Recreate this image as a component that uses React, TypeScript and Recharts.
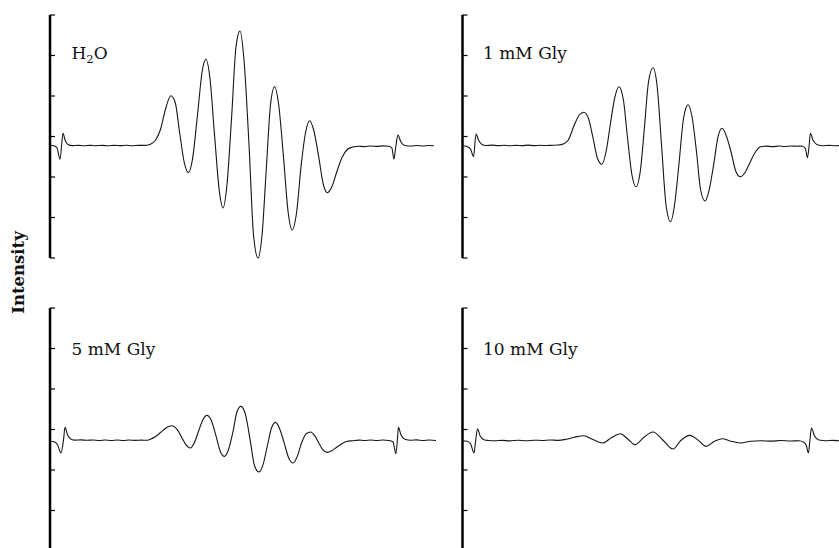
import React from 'react';
import { LineChart, Line, XAxis, YAxis } from 'recharts';

// Magnetic field (G) vs. EPR intensity (a.u.)
const spectrumH2O: [number, number][] = [
  [3440.0, -0.217], [3440.8, -0.23], [3441.4, -0.284], [3442.0, -0.563], [3442.6, 0.079],
  [3443.0, -0.086], [3443.6, -0.198], [3444.4, -0.226], [3445.6, -0.218], [3446.8, -0.229],
  [3448.0, -0.219], [3449.2, -0.228], [3450.4, -0.22], [3451.6, -0.23], [3452.8, -0.218],
  [3454.0, -0.226], [3455.2, -0.217], [3456.4, -0.228], [3457.6, -0.219], [3458.8, -0.22],
  [3460.0, -0.19], [3461.0, -0.099], [3462.0, 0.16], [3463.0, 0.654], [3464.1, 1.007],
  [3465.0, 0.827], [3465.9, 0.062], [3466.8, -0.654], [3467.6, -0.894], [3468.4, -0.58],
  [3469.4, 0.506], [3470.4, 1.642], [3471.1, 1.906], [3471.9, 1.444], [3472.8, 0.072],
  [3473.8, -1.37], [3474.5, -1.765], [3475.3, -1.198], [3476.2, 0.42], [3477.1, 2.21],
  [3477.9, 2.605], [3478.7, 1.889], [3479.7, -0.21], [3480.6, -2.432], [3481.5, -3.0],
  [3482.3, -2.432], [3483.1, -0.901], [3484.0, 0.802], [3484.8, 1.23], [3485.6, 0.802],
  [3486.6, -0.541], [3487.5, -1.864], [3488.3, -2.309], [3489.2, -1.864], [3490.1, -0.714],
  [3491.0, 0.111], [3491.8, 0.39], [3492.6, 0.16], [3493.6, -0.499], [3494.5, -1.173],
  [3495.3, -1.388], [3496.2, -1.247], [3497.2, -0.877], [3498.2, -0.531], [3499.3, -0.321],
  [3500.4, -0.259], [3501.6, -0.24], [3502.8, -0.249], [3504.0, -0.235], [3505.2, -0.244],
  [3506.4, -0.232], [3507.6, -0.24], [3508.2, -0.284], [3508.6, -0.556], [3509.0, -0.235],
  [3509.4, 0.037], [3510.0, -0.136], [3510.8, -0.222], [3512.0, -0.236], [3513.2, -0.224],
  [3514.4, -0.233], [3515.6, -0.224], [3516.6, -0.23],
];

const spectrumGly1: [number, number][] = [
  [3440.0, -0.222], [3440.9, -0.247], [3441.6, -0.309], [3442.2, -0.499], [3442.7, 0.062],
  [3443.2, -0.086], [3443.9, -0.198], [3444.7, -0.222], [3445.9, -0.214], [3447.1, -0.226],
  [3448.3, -0.216], [3449.5, -0.227], [3450.7, -0.218], [3451.9, -0.225], [3453.1, -0.214],
  [3454.3, -0.226], [3455.5, -0.217], [3456.7, -0.224], [3457.9, -0.217], [3459.1, -0.21],
  [3460.1, -0.185], [3461.1, -0.086], [3462.3, 0.284], [3463.3, 0.531], [3464.2, 0.598],
  [3465.1, 0.457], [3466.0, -0.012], [3466.9, -0.531], [3467.8, -0.686], [3468.7, -0.333],
  [3469.5, 0.309], [3470.4, 0.975], [3471.2, 1.23], [3472.1, 0.901], [3472.9, -0.012],
  [3473.8, -0.951], [3474.6, -1.24], [3475.5, -0.827], [3476.3, 0.235], [3477.1, 1.346],
  [3478.0, 1.699], [3478.8, 1.272], [3479.7, -0.202], [3480.6, -1.691], [3481.5, -2.104],
  [3482.3, -1.691], [3483.2, -0.654], [3484.1, 0.457], [3485.0, 0.785], [3485.8, 0.481],
  [3486.7, -0.402], [3487.5, -1.321], [3488.4, -1.593], [3489.2, -1.321], [3490.1, -0.694],
  [3491.0, 0.012], [3491.8, 0.202], [3492.7, -0.012], [3493.6, -0.395], [3494.5, -0.852],
  [3495.4, -0.993], [3496.3, -0.901], [3497.3, -0.654], [3498.3, -0.407], [3499.5, -0.252],
  [3500.7, -0.238], [3501.9, -0.25], [3503.1, -0.236], [3504.3, -0.246], [3505.5, -0.234],
  [3506.7, -0.242], [3507.7, -0.235], [3508.4, -0.296], [3508.8, -0.523], [3509.1, -0.284],
  [3509.4, 0.079], [3509.9, -0.086], [3510.7, -0.198], [3511.9, -0.228], [3513.1, -0.218],
  [3514.3, -0.229], [3515.5, -0.22], [3516.7, -0.227],
];

const spectrumGly5: [number, number][] = [
  [3440.0, -0.289], [3440.8, -0.301], [3441.5, -0.375], [3442.2, -0.58], [3442.7, -0.252],
  [3443.0, 0.052], [3443.5, -0.128], [3444.2, -0.24], [3445.0, -0.262], [3446.2, -0.256],
  [3447.4, -0.267], [3448.6, -0.259], [3449.8, -0.271], [3451.0, -0.258], [3452.2, -0.27],
  [3453.4, -0.261], [3454.6, -0.272], [3455.8, -0.26], [3457.0, -0.268], [3458.2, -0.262],
  [3459.2, -0.267], [3460.0, -0.24], [3461.0, -0.178], [3462.0, -0.079], [3463.2, 0.044],
  [3464.3, 0.094], [3465.4, -0.005], [3466.2, -0.178], [3467.1, -0.375], [3468.0, -0.457],
  [3468.8, -0.326], [3469.6, -0.054], [3470.5, 0.242], [3471.3, 0.348], [3472.2, 0.217],
  [3473.1, -0.153], [3474.0, -0.548], [3474.8, -0.664], [3475.6, -0.499], [3476.5, -0.054],
  [3477.3, 0.44], [3478.1, 0.57], [3479.0, 0.365], [3479.9, -0.24], [3480.8, -0.894],
  [3481.7, -1.049], [3482.5, -0.869], [3483.3, -0.437], [3484.2, 0.044], [3485.0, 0.175],
  [3485.8, 0.02], [3486.7, -0.326], [3487.6, -0.696], [3488.5, -0.827], [3489.3, -0.672],
  [3490.2, -0.326], [3491.1, -0.104], [3492.0, -0.062], [3492.8, -0.153], [3493.7, -0.351],
  [3494.5, -0.511], [3495.3, -0.565], [3496.2, -0.523], [3497.2, -0.437], [3498.2, -0.351],
  [3499.3, -0.289], [3500.4, -0.277], [3501.6, -0.262], [3502.8, -0.272], [3504.0, -0.26],
  [3505.2, -0.27], [3506.4, -0.261], [3507.6, -0.27], [3508.4, -0.301], [3509.0, -0.598],
  [3509.3, -0.252], [3509.5, 0.052], [3510.0, -0.128], [3510.8, -0.24], [3512.0, -0.265],
  [3513.2, -0.257], [3514.4, -0.27], [3515.6, -0.261], [3517.0, -0.272],
];

const spectrumGly10: [number, number][] = [
  [3440.0, -0.277], [3440.9, -0.289], [3441.6, -0.351], [3442.3, -0.58], [3442.6, -0.301],
  [3443.0, 0.02], [3443.5, -0.153], [3444.3, -0.252], [3445.1, -0.27], [3446.5, -0.279],
  [3447.9, -0.268], [3449.5, -0.281], [3451.1, -0.266], [3452.7, -0.277], [3454.3, -0.264],
  [3455.9, -0.27], [3457.5, -0.259], [3459.1, -0.268], [3460.7, -0.24], [3462.3, -0.19],
  [3464.2, -0.153], [3465.9, -0.24], [3468.0, -0.333], [3469.7, -0.202], [3471.5, -0.104],
  [3472.9, -0.227], [3474.4, -0.375], [3476.1, -0.202], [3478.0, -0.062], [3479.9, -0.252],
  [3482.0, -0.481], [3483.5, -0.277], [3485.3, -0.146], [3486.9, -0.252], [3488.6, -0.417],
  [3490.1, -0.301], [3491.8, -0.227], [3493.5, -0.289], [3495.5, -0.333], [3497.5, -0.289],
  [3499.5, -0.277], [3501.5, -0.288], [3503.5, -0.272], [3505.5, -0.283], [3507.1, -0.277],
  [3508.1, -0.314], [3508.6, -0.4], [3509.0, -0.58], [3509.3, -0.277], [3509.6, 0.037],
  [3510.2, -0.153], [3511.1, -0.259], [3512.5, -0.279], [3513.9, -0.268], [3515.5, -0.281],
  [3516.9, -0.27],
];

const panelLabels = ['H2O', '1 mM Gly', '5 mM Gly', '10 mM Gly'];
const intensityTicks = [-3, -2, -1, 0, 1, 2, 3];
const fieldDomain: [number, number] = [3440, 3517];
const yTitle = 'Intensity';

const toRows = (s: [number, number][]) => s.map(([field, intensity]) => ({ field, intensity }));

const FONT = '"DejaVu Serif", "Liberation Serif", serif';

type PanelProps = {
  data: [number, number][];
  left: number;
  top: number;
  marginLeft: number;
  marginTop: number;
};

const Panel = ({ data, left, top, marginLeft, marginTop }: PanelProps) => {
  const plotW = 385;
  const plotH = 243;
  const width = marginLeft + 1 + plotW + 12;
  const height = marginTop + plotH + 12;
  return (
    <div style={{ position: 'absolute', left, top }}>
      <LineChart
        width={width}
        height={height}
        data={toRows(data)}
        margin={{ top: marginTop, right: 12, bottom: 12, left: marginLeft }}
      >
        <XAxis dataKey="field" type="number" domain={fieldDomain} hide allowDataOverflow />
        <YAxis
          type="number"
          domain={[-3, 3]}
          ticks={intensityTicks}
          interval={0}
          width={1}
          mirror
          tick={{ fontSize: 1, fill: 'none' }}
          tickFormatter={() => ''}
          tickSize={5}
          axisLine={{ stroke: '#000', strokeWidth: 2.5 }}
          tickLine={{ stroke: '#000', strokeWidth: 1.2 }}
        />
        <Line
          dataKey="intensity"
          type="monotone"
          stroke="#151515"
          strokeWidth={1.1}
          dot={false}
          activeDot={false}
          isAnimationActive={false}
        />
      </LineChart>
    </div>
  );
};

export default function App() {
  return (
    <div
      style={{
        position: 'fixed',
        left: 0,
        top: 0,
        width: 839,
        height: 548,
        overflow: 'hidden',
        background: '#fff',
      }}
    >
      <Panel data={spectrumH2O} left={0} top={0} marginLeft={50} marginTop={15} />
      <Panel data={spectrumGly1} left={412} top={0} marginLeft={50.5} marginTop={15} />
      <Panel data={spectrumGly5} left={0} top={293.3} marginLeft={50} marginTop={15} />
      <Panel data={spectrumGly10} left={412} top={293.3} marginLeft={50.5} marginTop={15} />
      <svg
        width={839}
        height={548}
        style={{ position: 'absolute', left: 0, top: 0, pointerEvents: 'none' }}
      >
        <text x={71.5} y={59} fontFamily={FONT} fontSize={17} fill="#111">
          H<tspan dy={4} fontSize={11.5}>2</tspan>
          <tspan dy={-4}>O</tspan>
        </text>
        <text x={483} y={59} fontFamily={FONT} fontSize={17} fill="#111">
          {panelLabels[1]}
        </text>
        <text x={71.5} y={355} fontFamily={FONT} fontSize={17} fill="#111">
          {panelLabels[2]}
        </text>
        <text x={483} y={355} fontFamily={FONT} fontSize={17} fill="#111">
          {panelLabels[3]}
        </text>
        <text
          transform="translate(24,272.5) rotate(-90)"
          x={0}
          y={0}
          textAnchor="middle"
          fontFamily={FONT}
          fontWeight="bold"
          fontSize={16.5}
          fill="#111"
        >
          {yTitle}
        </text>
      </svg>
    </div>
  );
}
